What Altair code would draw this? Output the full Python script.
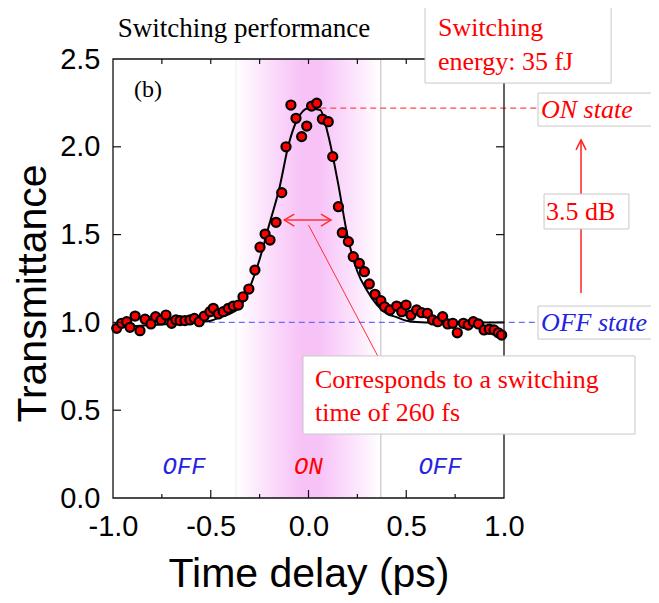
import altair as alt
import pandas as pd

# ---------------- data ----------------
TIME = [-0.981, -0.956, -0.930, -0.913, -0.887, -0.862, -0.836, -0.806, -0.782, -0.754,
        -0.729, -0.700, -0.678, -0.657, -0.632, -0.606, -0.584, -0.559, -0.533, -0.504,
        -0.487, -0.461, -0.436, -0.410, -0.385, -0.359, -0.335, -0.305, -0.274, -0.248,
        -0.222, -0.197, -0.166, -0.137, -0.115, -0.090, -0.064, -0.035, -0.009, 0.016,
        0.042, 0.071, 0.101, 0.124, 0.153, 0.173, 0.204, 0.229, 0.260, 0.286,
        0.311, 0.340, 0.370, 0.389, 0.417, 0.451, 0.477, 0.499, 0.524, 0.553,
        0.579, 0.608, 0.635, 0.661, 0.686, 0.712, 0.738, 0.761, 0.792, 0.817,
        0.843, 0.869, 0.898, 0.925, 0.949, 0.971, 0.988]
TRANS = [0.966, 0.995, 1.004, 0.972, 1.036, 0.953, 1.018, 0.991, 1.033, 1.014,
         1.042, 0.995, 1.014, 1.010, 1.010, 1.014, 1.023, 1.004, 1.036, 1.061,
         1.080, 1.048, 1.061, 1.080, 1.093, 1.099, 1.146, 1.190, 1.298, 1.428,
         1.503, 1.469, 1.570, 1.739, 2.000, 2.238, 2.162, 2.058, 2.118, 2.232,
         2.248, 2.158, 2.143, 1.944, 1.659, 1.511, 1.460, 1.374, 1.336, 1.289,
         1.219, 1.160, 1.124, 1.089, 1.071, 1.093, 1.061, 1.099, 1.042, 1.071,
         1.055, 1.052, 1.014, 1.004, 1.033, 0.991, 0.995, 0.941, 0.995, 0.985,
         1.004, 0.991, 0.957, 0.961, 0.957, 0.941, 0.928]

FIT_T = [-1.0, -0.8, -0.6, -0.5, -0.45, -0.4, -0.35, -0.3, -0.25, -0.2, -0.15, -0.1,
         -0.06, 0.0, 0.06, 0.1, 0.15, 0.2, 0.25, 0.3, 0.35, 0.4, 0.45, 0.5, 0.6, 0.8, 1.0]
FIT_Y = [0.97, 0.985, 1.0, 1.01, 1.03, 1.05, 1.09, 1.20, 1.36, 1.56, 1.76, 2.02,
         2.15, 2.22, 2.21, 2.07, 1.80, 1.49, 1.29, 1.18, 1.10, 1.05, 1.03, 1.01, 1.0, 1.0, 1.0]

X_LABELS = [-1.0, -0.5, 0.0, 0.5, 1.0]
Y_LABELS = [0.0, 0.5, 1.0, 1.5, 2.0, 2.5]
X_MINOR = [-0.75, -0.25, 0.25, 0.75]
X_MAJOR_IN = [-0.5, 0.0, 0.5]
Y_TICKS_IN = [0.5, 1.0, 1.5, 2.0]

ON_WINDOW = [-0.37, 0.37]
ON_LEVEL = 2.22
OFF_LEVEL = 1.0

# ---------------- layout ----------------
W, H = 391, 439
XDOM = [-1.0, 1.0]
YDOM = [0.0, 2.5]
SERIF = "Liberation Serif"
SANS = "Liberation Sans"
RED = "#ff0000"
BLUE = "#2424e0"

xs = alt.Scale(domain=XDOM, nice=False, zero=False)
ys = alt.Scale(domain=YDOM, nice=False, zero=False)
lab = "(datum.value < 0 ? '-' : '') + format(abs(datum.value), '.1f')"
xaxis = alt.Axis(values=X_LABELS, labelExpr=lab, title="Time delay (ps)", ticks=False,
                 domain=False, grid=False, labelFont=SANS, labelFontSize=29,
                 labelColor="black", labelPadding=14, labelFlush=False, labelOverlap=False,
                 titleFont=SANS, titleFontSize=41, titleFontWeight="normal",
                 titleColor="black", titlePadding=13)
yaxis = alt.Axis(values=Y_LABELS, labelExpr=lab, title="Transmittance", ticks=False,
                 domain=False, grid=False, labelFont=SANS, labelFontSize=29,
                 labelColor="black", labelPadding=13, labelFlush=False, labelOverlap=False,
                 titleFont=SANS, titleFontSize=41, titleFontWeight="normal",
                 titleColor="black", titlePadding=5, titleY=234)


def X(f="x"):
    return alt.X(f"{f}:Q", scale=xs, axis=xaxis)


def Y(f="y"):
    return alt.Y(f"{f}:Q", scale=ys, axis=yaxis)


# ON band with gradient
band_df = pd.DataFrame({"x": [ON_WINDOW[0]], "x2": [ON_WINDOW[1]], "y": [YDOM[0]], "y2": [YDOM[1]]})
grad = alt.Gradient(gradient="linear", x1=0, x2=1, y1=0, y2=0, stops=[
    alt.GradientStop(color="#ffffff", offset=0.0),
    alt.GradientStop(color="#fdf0fd", offset=0.1),
    alt.GradientStop(color="#fad4fa", offset=0.3),
    alt.GradientStop(color="#f7c3f7", offset=0.45),
    alt.GradientStop(color="#f7c3f7", offset=0.58),
    alt.GradientStop(color="#fce2fc", offset=0.8),
    alt.GradientStop(color="#ffffff", offset=1.0)])
band = alt.Chart(band_df).mark_rect(fill=grad).encode(x=X(), x2="x2:Q", y=Y(), y2="y2:Q")

edge_df = pd.DataFrame({"x": ON_WINDOW, "c": ["#efefef", "#bcbcbc"]})
edges = alt.Chart(edge_df).mark_rule(strokeWidth=1).encode(
    x=X(), y=alt.value(0), y2=alt.value(H), color=alt.Color("c:N", scale=None))

state_df = pd.DataFrame({"x": [-0.636, 0.0, 0.673], "y": [0.177] * 3,
                         "t": ["OFF", "ON", "OFF"], "c": [BLUE, RED, BLUE]})
states = alt.Chart(state_df).mark_text(font="Liberation Mono", fontStyle="italic",
                                       fontSize=24, align="center", baseline="middle").encode(
    x=X(), y=Y(), text="t:N", color=alt.Color("c:N", scale=None))

# dashed level lines
lvl_df = pd.DataFrame({"x": [0.06, -0.51], "x2": [1.174, 1.174], "y": [ON_LEVEL, OFF_LEVEL],
                       "c": ["#ff4a4a", "#6b6bff"]})
levels = alt.Chart(lvl_df).mark_rule(strokeDash=[6, 4], strokeWidth=1.4).encode(
    x=X(), x2="x2:Q", y=Y(), color=alt.Color("c:N", scale=None))

fit = alt.Chart(pd.DataFrame({"x": FIT_T, "y": FIT_Y})).mark_line(
    color="black", strokeWidth=2, interpolate="monotone").encode(x=X(), y=Y())

pts = alt.Chart(pd.DataFrame({"x": TIME, "y": TRANS})).mark_point(
    shape="circle", filled=True, fill="#ff0000", stroke="black", strokeWidth=2.2,
    size=82, opacity=1).encode(x=X(), y=Y())

# double arrow (switching time)
dbl_df = pd.DataFrame({"x": [-0.124], "x2": [0.115], "y": [1.583]})
dbl = alt.Chart(dbl_df).mark_rule(color="#ff3030", strokeWidth=1.5).encode(x=X(), x2="x2:Q", y=Y())
headL = alt.Chart(pd.DataFrame({"x": [-0.124], "y": [1.583]})).mark_point(
    shape="M1,-0.6L0,0L1,0.6", filled=False, stroke="#ff3030", strokeWidth=1.5, size=400,
    opacity=1).encode(x=X(), y=Y())
headR = alt.Chart(pd.DataFrame({"x": [0.115], "y": [1.583]})).mark_point(
    shape="M-1,-0.6L0,0L-1,0.6", filled=False, stroke="#ff3030", strokeWidth=1.5, size=400,
    opacity=1).encode(x=X(), y=Y())
conn = alt.Chart(pd.DataFrame({"x": [0.0], "y": [1.555], "x2": [0.354], "y2": [0.809]})).mark_rule(
    color="#ff3030", strokeWidth=1).encode(x=X(), y=Y(), x2="x2:Q", y2="y2:Q")

# vertical 3.5 dB arrow
varr = alt.Chart(pd.DataFrame({"x": [1.394], "y": [1.167], "y2": [2.039]})).mark_rule(
    color="#ff2020", strokeWidth=1.5).encode(x=X(), y=Y(), y2="y2:Q")
vhead = alt.Chart(pd.DataFrame({"x": [1.394], "y": [2.039]})).mark_point(
    shape="M-0.5,1L0,0L0.5,1", filled=False, stroke="#ff2020", strokeWidth=1.5, size=400,
    opacity=1).encode(x=X(), y=Y())

# frame and inward ticks
frame = alt.Chart(pd.DataFrame({"x": [XDOM[0]], "x2": [XDOM[1]], "y": [YDOM[0]], "y2": [YDOM[1]]})).mark_rect(
    fill=None, fillOpacity=0, stroke="#111111", strokeWidth=1.3).encode(x=X(), x2="x2:Q", y=Y(), y2="y2:Q")
ytick_df = pd.DataFrame({"y": Y_TICKS_IN})
ytl = alt.Chart(ytick_df).mark_rule(color="#111111", strokeWidth=1.2).encode(
    y=Y(), x=alt.value(0), x2=alt.value(8))
ytr = alt.Chart(ytick_df).mark_rule(color="#111111", strokeWidth=1.2).encode(
    y=Y(), x=alt.value(W), x2=alt.value(W - 8))
xtop = alt.Chart(pd.DataFrame({"x": X_MINOR + X_MAJOR_IN})).mark_rule(color="#111111", strokeWidth=1.2).encode(
    x=X(), y=alt.value(0), y2=alt.value(5))
xbmaj = alt.Chart(pd.DataFrame({"x": X_MAJOR_IN})).mark_rule(color="#111111", strokeWidth=1.2).encode(
    x=X(), y=alt.value(H), y2=alt.value(H - 8))
xbmin = alt.Chart(pd.DataFrame({"x": X_MINOR})).mark_rule(color="#111111", strokeWidth=1.2).encode(
    x=X(), y=alt.value(H), y2=alt.value(H - 4))

# annotation boxes
box_df = pd.DataFrame({
    "x": [0.596, -0.028, 1.174, 1.174, 1.205],
    "x2": [1.548, 1.670, 1.80, 1.80, 1.639],
    "y": [2.807, 0.809, 2.306, 1.093, 1.731],
    "y2": [2.363, 0.364, 2.118, 0.905, 1.532]})
boxes = alt.Chart(box_df).mark_rect(fill="white", stroke="#c8c8c8", strokeWidth=1).encode(
    x=X(), x2="x2:Q", y=Y(), y2="y2:Q")

# texts
red_txt = pd.DataFrame({
    "x": [0.662, 0.662, 1.215, 0.033, 0.033],
    "y": [2.677, 2.483, 1.629, 0.672, 0.484],
    "t": ["Switching", "energy: 35 fJ", "3.5 dB", "Corresponds to a switching", "time of 260 fs"]})
reds = alt.Chart(red_txt).mark_text(font=SERIF, fontSize=26, color=RED, align="left",
                                    baseline="middle").encode(x=X(), y=Y(), text="t:N")
ital = pd.DataFrame({"x": [1.189, 1.189], "y": [2.210, 0.997], "t": ["ON state", "OFF state"],
                     "c": [RED, BLUE]})
itals = alt.Chart(ital).mark_text(font=SERIF, fontSize=26, fontStyle="italic", align="left",
                                  baseline="middle").encode(
    x=X(), y=Y(), text="t:N", color=alt.Color("c:N", scale=None))
blk = pd.DataFrame({"x": [-0.330, -0.821], "y": [2.671, 2.323], "t": ["Switching performance", "(b)"],
                    "s": [27, 24]})
blks = alt.Chart(blk).mark_text(font=SERIF, color="black", align="center", baseline="middle").encode(
    x=X(), y=Y(), text="t:N", size=alt.Size("s:Q", scale=None, legend=None))

chart = alt.layer(
    band, edges, states, levels, fit, pts, dbl, headL, headR, conn, varr, vhead,
    frame, ytl, ytr, xtop, xbmaj, xbmin, boxes, reds, itals, blks
).properties(
    width=W, height=H,
    autosize=alt.AutoSizeParams(type="none"),
    padding={"left": 105, "top": 51, "right": 147, "bottom": 97},
    background="white",
).configure_view(stroke=None)

chart.save("out.html", embed_options={"renderer": "svg", "actions": False})
